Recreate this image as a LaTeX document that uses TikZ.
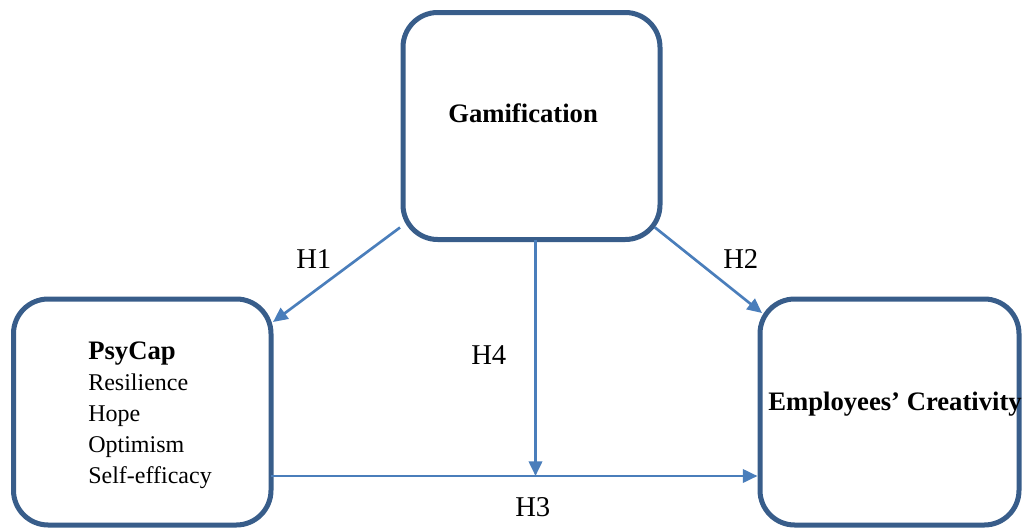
\documentclass[tikz,border=0pt]{standalone}
\usepackage{fontspec}
\setmainfont{Liberation Serif}
\usetikzlibrary{arrows.meta,calc}
\definecolor{boxblue}{HTML}{385D8A}
\definecolor{arrowblue}{HTML}{4A7EBB}
\tikzset{
  boxnode/.style={draw=boxblue, line width=3.75pt, rounded corners=26pt, fill=white, inner sep=0pt, outer sep=0pt},
  conn/.style={draw=arrowblue, line width=2pt, -{Triangle[length=11pt,width=10pt]}},
  title/.style={font=\fontsize{20}{24}\selectfont\bfseries, inner sep=0pt, anchor=base west},
  item/.style={font=\fontsize{18}{22}\selectfont, inner sep=0pt, anchor=base west},
  hlabel/.style={font=\fontsize{21.5}{26}\selectfont, inner sep=0pt, anchor=base west}
}
\begin{document}
\begin{tikzpicture}[x=0.75pt,y=-0.75pt]
\useasboundingbox (0,0) rectangle (1022,529);
% boxes
\node[boxnode, minimum width=257*0.75pt, minimum height=227*0.75pt] (gam) at (531.5,126) {};
\node[boxnode, minimum width=257.5*0.75pt, minimum height=226*0.75pt] (psy) at (142.25,412) {};
\node[boxnode, minimum width=259*0.75pt, minimum height=226*0.75pt] (emp) at (889.5,412) {};
% texts
\node[title] (tgam) at (448,122) {Gamification};
\node[title] (temp) at (768,410) {Employees’ Creativity};
\node[title] (tpsy) at (88,359) {PsyCap};
\node[item] (t1) at (88,390) {Resilience};
\node[item] (t2) at (88,421) {Hope};
\node[item] (t3) at (88,452) {Optimism};
\node[item] (t4) at (88,483) {Self-efficacy};
% connectors
\coordinate (h3s) at (psy.east |- 0,476);
\coordinate (h3e) at ([shift={(-2.5,0)}]emp.west |- h3s);
\coordinate (vs) at ([shift={(4,0)}]gam.south);
\draw[conn] ([shift={(-3,-12)}]gam.south west) -- ([shift={(2,23)}]psy.north east);
\draw[conn] ([shift={(-5,-12)}]gam.south east) -- ([shift={(2,14)}]emp.north west);
\draw[conn] (h3s) -- (h3e);
\draw[conn] (vs) -- (vs |- h3s);
% labels
\node[hlabel] (h1) at (296,268) {H1};
\node[hlabel] (h2) at (723,268) {H2};
\node[hlabel] (h4) at (471,364) {H4};
\node[hlabel] (h3) at (515,516) {H3};
\end{tikzpicture}
\end{document}
